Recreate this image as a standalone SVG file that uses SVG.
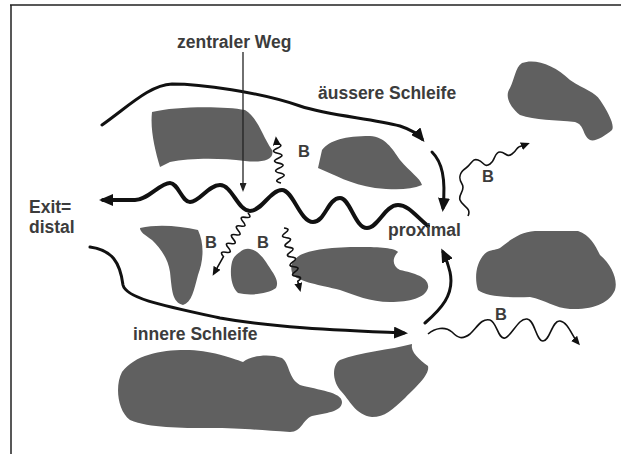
<svg xmlns="http://www.w3.org/2000/svg" width="621" height="454" viewBox="0 0 621 454">
<style>
.blob{fill:#606060;stroke:none}
.thick{fill:none;stroke:#111;stroke-width:3;stroke-linecap:round;stroke-linejoin:round}
.wave{fill:none;stroke:#111;stroke-width:4;stroke-linecap:round;stroke-linejoin:round}
.thin{fill:none;stroke:#222;stroke-width:1.3}
.sq{fill:none;stroke:#111;stroke-width:1.6;stroke-linejoin:round}
.lbl{font-family:"Liberation Sans",Arial,sans-serif;font-weight:bold;font-size:17.5px;fill:#3c3c3c}
.b{font-family:"Liberation Sans",Arial,sans-serif;font-weight:bold;font-size:16.5px;fill:#3c3c3c}
</style>
<defs>
<marker id="big" viewBox="0 0 14 12" refX="10" refY="6" markerWidth="14" markerHeight="12" markerUnits="userSpaceOnUse" orient="auto"><path d="M0,0 L14,6 L0,12 Z" fill="#111"/></marker>
<marker id="mid" viewBox="0 0 9 7" refX="7" refY="3.5" markerWidth="9" markerHeight="7" markerUnits="userSpaceOnUse" orient="auto"><path d="M0,0 L9,3.5 L0,7 Z" fill="#222"/></marker>
<marker id="sm" viewBox="0 0 9 8" refX="6" refY="4" markerWidth="9" markerHeight="8" markerUnits="userSpaceOnUse" orient="auto"><path d="M0,0 L9,4 L0,8 Z" fill="#111"/></marker>
</defs>
<rect width="621" height="454" fill="#fff"/>
<g id="frame"><path d="M10,5 L621,5 M11,5 L11,454" stroke="#222" stroke-width="1.5" fill="none"/></g>

<g id="blob-top-left"><path class="blob" d="M152,112 C175,106 225,106 245,110 C258,118 262,135 272,150 C275,160 262,163 245,161 C220,158 190,158 170,162 L160,167 C155,150 150,130 152,112 Z"/></g>
<g id="blob-top-mid"><path class="blob" d="M322,150 C330,140 345,136 370,136 C385,137 392,148 400,160 C410,172 420,178 422,185 C410,190 395,190 375,188 C350,184 335,175 318,168 Z"/></g>
<g id="blob-top-right"><path class="blob" d="M522,63 C535,58 555,65 570,80 C585,90 595,92 600,100 C608,112 615,125 612,130 C605,136 595,142 590,140 C582,135 585,125 575,122 C555,120 535,120 520,115 C508,105 505,95 510,88 C515,78 515,68 522,63 Z"/></g>
<g id="blob-mid-left"><path class="blob" d="M140,228 C158,224 180,226 198,230 C205,245 203,262 198,275 C194,290 192,302 183,305 C172,302 172,290 170,272 C168,258 160,248 152,240 C145,235 140,232 140,228 Z"/></g>
<g id="blob-small"><path class="blob" d="M240,252 C248,245 258,250 266,262 C272,272 280,280 276,288 C268,294 250,296 238,293 C230,286 230,270 232,262 C234,256 236,255 240,252 Z"/></g>
<g id="blob-mid"><path class="blob" d="M295,260 C300,250 330,247 360,247 C380,247 395,248 398,252 C392,258 392,266 400,270 C415,273 430,278 428,288 C425,298 410,302 390,302 C370,302 355,295 340,290 C320,285 300,282 293,275 C290,268 291,263 295,260 Z"/></g>
<g id="blob-mid-right"><path class="blob" d="M500,248 C510,240 520,232 535,231 L578,231 C590,235 595,245 600,255 C612,265 618,280 615,290 C610,302 595,310 570,309 C555,308 545,300 530,297 C505,298 485,296 478,290 C474,278 476,260 487,252 C493,249 497,250 500,248 Z"/></g>
<g id="blob-bottom-large"><path class="blob" d="M122,372 C135,355 160,350 185,350 C210,350 232,358 243,362 C250,356 268,353 282,358 C290,364 288,378 300,385 C318,390 342,392 342,402 C342,412 325,413 312,416 C302,420 302,432 290,432 C260,430 240,428 210,428 C180,428 150,428 130,420 C117,410 115,385 122,372 Z"/></g>
<g id="blob-bottom-right"><path class="blob" d="M340,360 C360,352 390,350 412,344 C410,352 420,360 428,366 C430,374 418,385 405,398 C392,410 385,417 372,417 C355,415 350,400 340,390 C332,380 332,365 340,360 Z"/></g>

<g id="connectors">
<path class="thick" marker-end="url(#big)" d="M102,125 C130,105 150,85 172,84 C200,84 260,92 300,106 C330,116 370,118 400,126 C412,130 418,134 422,139"/>
<path class="thick" marker-end="url(#big)" d="M432,152 C442,162 446,178 443,208"/>
<path class="thick" marker-end="url(#big)" d="M425,323 C440,310 455,295 450,272 C448,264 446,258 443,252"/>
<path class="thick" marker-end="url(#big)" d="M90,247 C112,250 120,262 123,285 C126,298 160,305 220,318 C270,327 330,330 404,333"/>
<path class="wave" marker-end="url(#big)" d="M428,226 C415,215 408,205 398,205 C385,205 378,228 367,228 C355,228 350,198 340,198 C328,198 325,222 313,222 C300,222 293,190 282,190 C270,190 262,211 250,211 C238,211 232,185 220,185 C208,185 200,202 190,202 C182,202 178,183 170,183 C160,183 148,200 135,200 L103,200"/>
<path class="thin" marker-end="url(#mid)" d="M243,52 L243,190"/>
<path class="sq" marker-end="url(#sm)" transform="translate(281,183) rotate(-96.3)" d="M0,0 Q2.5,-8 5,0 T10,0 T15,0 T20,0 T25,0 T30,0 T35,0 T40,0 L44,0"/>
<path class="sq" marker-end="url(#sm)" transform="translate(248,213) rotate(119.4)" d="M0,0 Q2.5,-7 5,0 T10,0 T15,0 T20,0 T25,0 T30,0 T35,0 T40,0 T45,0 T50,0 L69,0"/>
<path class="sq" marker-end="url(#sm)" transform="translate(284,228) rotate(75.5)" d="M0,0 Q2.5,-7 5,0 T10,0 T15,0 T20,0 T25,0 T30,0 T35,0 T40,0 T45,0 T50,0 T55,0 L63,0"/>
<path class="sq" marker-end="url(#sm)" d="M468,216 C472,208 462,206 460,200 C458,194 466,190 462,184 C458,178 460,172 466,168 C472,164 472,158 478,160 C484,162 484,168 490,164 C496,160 494,152 500,152 C506,152 506,158 512,154 C518,150 516,146 522,146 L527,144"/>
<path class="sq" marker-end="url(#sm)" d="M428,334 C435,328 445,326 452,332 C458,338 462,340 470,334 C478,326 482,318 490,320 C497,322 498,340 505,338 C512,336 518,318 527,319 C535,320 536,341 543,341 C550,341 552,320 560,321 C568,322 572,336 578,343"/>
</g>

<g id="labels">
<text class="lbl" x="177" y="48">zentraler Weg</text>
<text class="lbl" x="318" y="99">äussere Schleife</text>
<text class="lbl" x="29" y="213">Exit=</text>
<text class="lbl" x="29" y="233">distal</text>
<text class="lbl" x="133" y="340">innere Schleife</text>
<text class="lbl" x="388" y="236">proximal</text>
<text class="b" x="298" y="157">B</text>
<text class="b" x="482" y="182">B</text>
<text class="b" x="205" y="248">B</text>
<text class="b" x="257" y="248">B</text>
<text class="b" x="495" y="320">B</text>
</g>
</svg>
